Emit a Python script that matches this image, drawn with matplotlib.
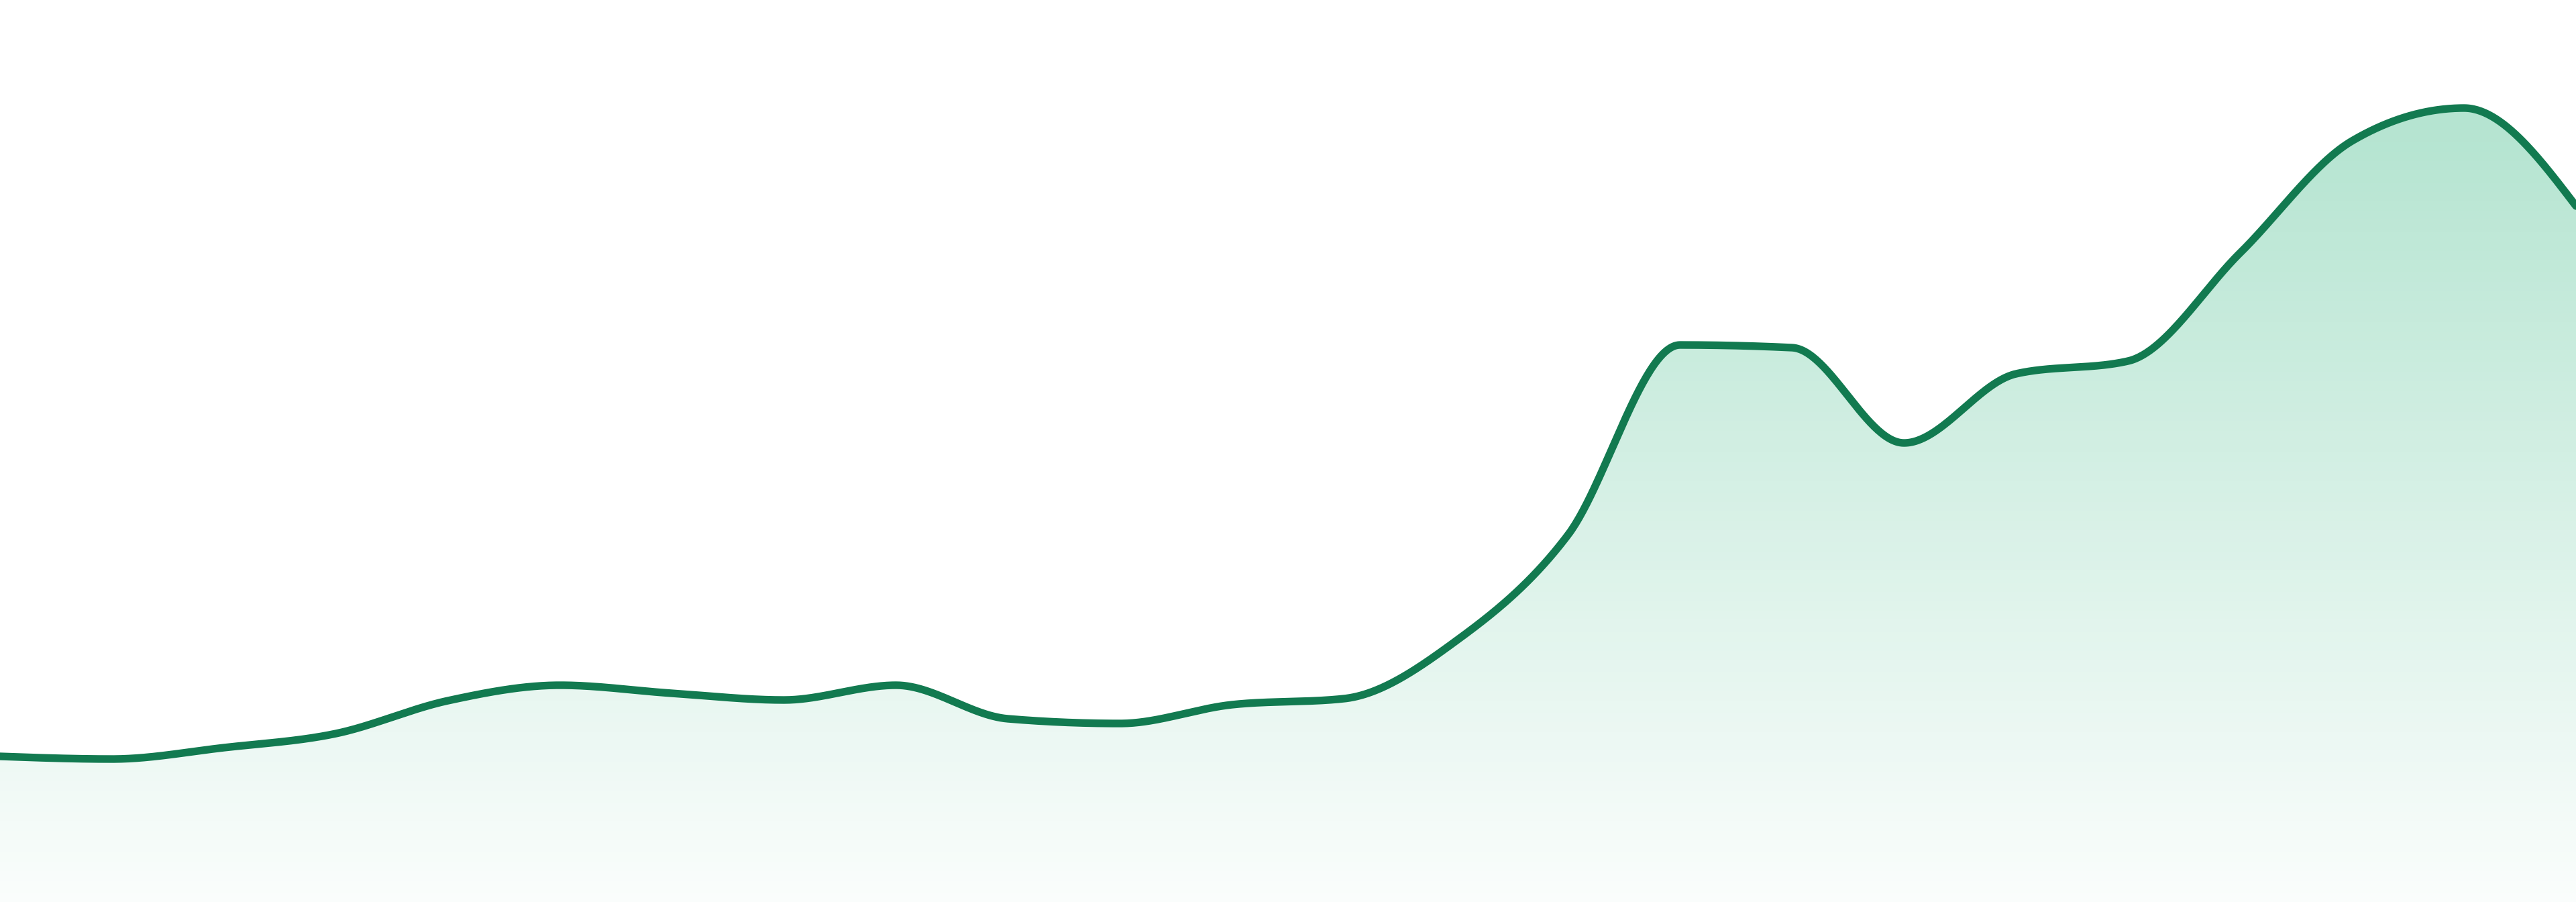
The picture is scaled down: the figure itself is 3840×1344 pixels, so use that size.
import numpy as np
import matplotlib
matplotlib.use("Agg")
import matplotlib.pyplot as plt
from matplotlib.colors import LinearSegmentedColormap
from matplotlib.patches import PathPatch

# Data (arbitrary units)
x_index = list(range(24))
values = [217, 213, 230, 251, 300, 323, 311, 301, 323, 273, 266, 294,
          303, 389, 547, 830, 826, 684, 787, 806, 967, 1134, 1183, 1037]

LINE_COLOR = "#127a50"
FILL_RGB = (0.10, 0.68, 0.44)


def monotone_x(xs, ys, n=60):
    xs = np.asarray(xs, float)
    ys = np.asarray(ys, float)
    m = len(xs)
    h = np.diff(xs)
    s = np.diff(ys) / h
    t = np.zeros(m)
    for i in range(1, m - 1):
        h0, h1 = h[i - 1], h[i]
        s0, s1 = s[i - 1], s[i]
        p = (s0 * h1 + s1 * h0) / (h0 + h1)
        t[i] = (np.sign(s0) + np.sign(s1)) * min(abs(s0), abs(s1), 0.5 * abs(p))
    t[0] = (3 * s[0] - t[1]) / 2
    t[-1] = (3 * s[-1] - t[-2]) / 2
    px, py = [], []
    for i in range(m - 1):
        dx = h[i]
        P0 = (xs[i], ys[i])
        P1 = (xs[i] + dx / 3, ys[i] + dx * t[i] / 3)
        P2 = (xs[i + 1] - dx / 3, ys[i + 1] - dx * t[i + 1] / 3)
        P3 = (xs[i + 1], ys[i + 1])
        u = np.linspace(0, 1, n, endpoint=(i == m - 2))
        a = (1 - u) ** 3
        b = 3 * (1 - u) ** 2 * u
        c = 3 * (1 - u) * u ** 2
        d = u ** 3
        px.append(a * P0[0] + b * P1[0] + c * P2[0] + d * P3[0])
        py.append(a * P0[1] + b * P1[1] + c * P2[1] + d * P3[1])
    return np.concatenate(px), np.concatenate(py)


fig = plt.figure(figsize=(38.4, 13.44), dpi=100)
ax = fig.add_axes([0, 0, 1, 1])
ax.set_xlim(0, len(values) - 1)
ax.set_ylim(0, 1344)
ax.axis("off")

cx, cy = monotone_x(x_index, values)

# gradient fill
ymax = max(values)
cmap = LinearSegmentedColormap.from_list(
    "g", [(*FILL_RGB, 0.02), (*FILL_RGB, 0.33)])
grad = np.linspace(0, 1, 256).reshape(-1, 1)
im = ax.imshow(grad, extent=[0, len(values) - 1, 0, ymax], origin="lower",
               aspect="auto", cmap=cmap, zorder=1)
poly = ax.fill_between(cx, cy, 0, color="none", lw=0)
patch = PathPatch(poly.get_paths()[0], transform=ax.transData,
                  facecolor="none", edgecolor="none")
ax.add_patch(patch)
im.set_clip_path(patch)

ax.plot(cx, cy, color=LINE_COLOR, lw=8.2, solid_capstyle="round",
        solid_joinstyle="round", zorder=3)

fig.savefig("out.png", dpi=100, facecolor="white")
